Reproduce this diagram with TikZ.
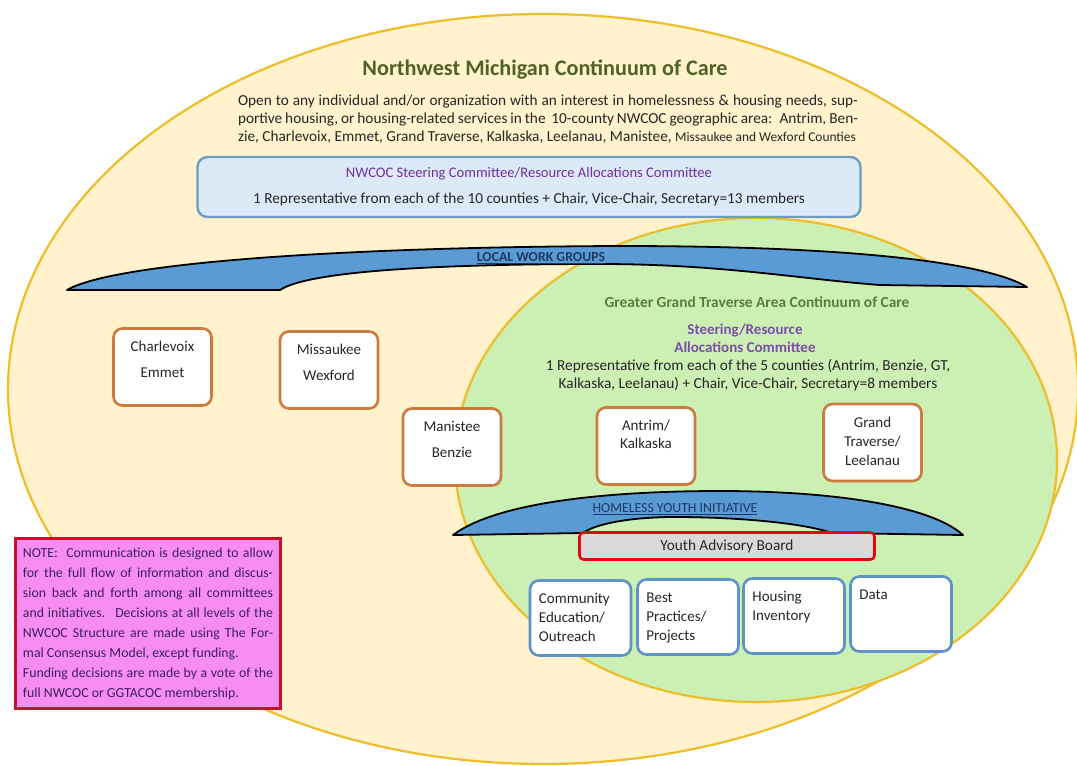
\documentclass[tikz,border=0pt]{standalone}
\usepackage{fontspec}
\setmainfont{Carlito}
\usetikzlibrary{positioning}
\definecolor{cream}{HTML}{FFF2CC}
\definecolor{gold}{HTML}{EDBE2A}
\definecolor{leaf}{HTML}{CCEFB4}
\definecolor{bandblue}{HTML}{5B9BD5}
\definecolor{navy}{HTML}{1F3864}
\definecolor{olive}{HTML}{4F6228}
\definecolor{moss}{HTML}{5E7D3C}
\definecolor{plum}{HTML}{7030A0}
\definecolor{lilac}{HTML}{7B4FA6}
\definecolor{ink}{HTML}{262626}
\definecolor{steerfill}{HTML}{DCE9F6}
\definecolor{steeredge}{HTML}{6E9AC4}
\definecolor{rust}{HTML}{CC7B3E}
\definecolor{skyedge}{HTML}{5D93C6}
\definecolor{notefill}{HTML}{F78DF1}
\definecolor{noteedge}{HTML}{C8102E}
\definecolor{notetext}{HTML}{3E1F5E}
\definecolor{yabfill}{HTML}{D9D9D9}
\definecolor{yabedge}{HTML}{E30613}
\tikzset{
  region/.style={draw=gold, line width=2.2pt},
  band/.style={fill=bandblue, draw=black, line width=1.8pt, line join=round},
  bandtext/.style={text=navy, font=\fontsize{13.8}{16}\selectfont, inner sep=0pt},
  county/.style={draw=rust, line width=2.6pt, fill=white, rounded corners=9pt,
    minimum width=98pt, minimum height=77pt},
  cname/.style={text=ink, font=\fontsize{15}{18}\selectfont, align=center, inner sep=0pt},
  task/.style={draw=skyedge, line width=2.6pt, fill=white, rounded corners=9pt,
    minimum width=101pt, minimum height=75pt},
  tname/.style={text=ink, font=\fontsize{15}{19}\selectfont, align=left, inner sep=0pt,
    anchor=north west},
  body/.style={text=ink, font=\fontsize{15.3}{18}\selectfont, inner sep=0pt},
}
\begin{document}
\begin{tikzpicture}[x=1pt,y=-1pt]
    \useasboundingbox (0,0) rectangle (1077,766);
    \fill[white] (0,0) rectangle (1077,766);
    \draw[region, fill=cream] (543,389) ellipse [x radius=535pt, y radius=375pt];
    \draw[region, fill=leaf] (756,460) ellipse [x radius=301pt, y radius=242pt];

    \node[text=olive, font=\bfseries\fontsize{22.2}{26}\selectfont] (nmcoc) at (545,70)
        {Northwest Michigan Continuum of Care};
    \node[body, text width=620pt, align=justify] (scope) at (548,119)
        {Open to any individual and/or organization with an interest in homelessness \& housing needs, sup-\linebreak
        portive housing, or housing-related services in the~ 10-county NWCOC geographic area:~ Antrim, Ben-\linebreak
        zie, Charlevoix, Emmet, Grand Traverse, Kalkaska, Leelanau, Manistee, {\fontsize{13.4}{18}\selectfont Missaukee and Wexford Counties}};

    \node[draw=steeredge, line width=2.4pt, fill=steerfill, rounded corners=10pt, minimum width=663pt,
        minimum height=60pt, body, align=center] (nwsteer) at (529,187)
        {{\color{plum}\fontsize{14.6}{18}\selectfont NWCOC Steering Committee/Resource Allocations Committee}\\[8pt]
        1 Representative from each of the 10 counties + Chair, Vice-Chair, Secretary=13 members};

    \draw[band] (67,290) .. controls (115,262) and (350,247) .. (620,246)
        .. controls (850,246) and (985,262) .. (1027,287)
        -- (880,285) .. controls (800,279) and (720,264) .. (600,264)
        .. controls (450,264) and (310,270) .. (280,290) -- cycle;
    \node[bandtext] (lwg) at (541,258) {\underline{\textbf{LOCAL WORK GROUPS}}};

    \node[text=moss, font=\bfseries\fontsize{15.4}{18}\selectfont] (ggtacoc) at (757,302)
        {Greater Grand Traverse Area Continuum of Care};
    \node[text=lilac, font=\bfseries\fontsize{15}{18}\selectfont, align=center] (ggsteer) at (745,338)
        {Steering/Resource\\Allocations Committee};
    \node[body, align=center] (ggrep) at (748,375)
        {1 Representative from each of the 5 counties (Antrim, Benzie, GT,\\
        Kalkaska, Leelanau) + Chair, Vice-Chair, Secretary=8 members};

    \node[county] (chx) at (162.5,367) {};
    \node[cname, below=14pt of chx.north] (chxname) {Charlevoix\\[8pt]Emmet};
    \node[county] (miw) at (329,370) {};
    \node[cname, below=14pt of miw.north] (miwname) {Missaukee\\[8pt]Wexford};
    \node[county] (mab) at (452,447) {};
    \node[cname, below=14pt of mab.north] (mabname) {Manistee\\[8pt]Benzie};
    \node[county] (ank) at (646,446) {};
    \node[cname, below=14pt of ank.north] (ankname) {Antrim/\\Kalkaska};
    \node[county] (gtl) at (872.5,442.5) {};
    \node[cname, below=14pt of gtl.north] (gtlname) {Grand\\[1pt]Traverse/\\[1pt]Leelanau};

    \draw[band] (453,535) .. controls (500,500) and (620,491) .. (720,491)
        .. controls (830,491) and (930,505) .. (963,535)
        -- (832,533) .. controls (800,522) and (730,517) .. (675,517)
        .. controls (630,517) and (595,524) .. (583,533) -- cycle;
    \node[bandtext] (hyi) at (675,509) {\underline{HOMELESS YOUTH INITIATIVE}};
    \node[draw=yabedge, line width=2.6pt, fill=yabfill, rounded corners=4pt, minimum width=295pt,
        minimum height=27pt, body] (yab) at (727,546) {Youth Advisory Board};

    \node[task] (ceo) at (580.5,618) {};
    \node[tname] (ceoname) at ([xshift=10pt,yshift=-14pt]ceo.north west) {Community\\Education/\\Outreach};
    \node[task] (bpp) at (688,617) {};
    \node[tname] (bppname) at ([xshift=10pt,yshift=-14pt]bpp.north west) {Best\\Practices/\\Projects};
    \node[task] (hin) at (794,616) {};
    \node[tname] (hinname) at ([xshift=10pt,yshift=-14pt]hin.north west) {Housing\\Inventory};
    \node[task] (dat) at (901,614) {};
    \node[tname] (datname) at ([xshift=10pt,yshift=-14pt]dat.north west) {Data};

    \node[draw=noteedge, line width=3pt, fill=notefill, minimum width=265pt, minimum height=170pt,
        text width=250pt, align=justify, text=notetext, font=\fontsize{13.8}{20}\selectfont] (note) at (148,623.5)
        {NOTE:~ Communication is designed to allow\linebreak
        for the full flow of information and discus-\linebreak
        sion back and forth among all committees\linebreak
        and initiatives.~ Decisions at all levels of the\linebreak
        NWCOC Structure are made using The For-\linebreak
        mal Consensus Model, except funding.\\
        Funding decisions are made by a vote of the\linebreak
        full NWCOC or GGTACOC membership.};
\end{tikzpicture}
\end{document}
